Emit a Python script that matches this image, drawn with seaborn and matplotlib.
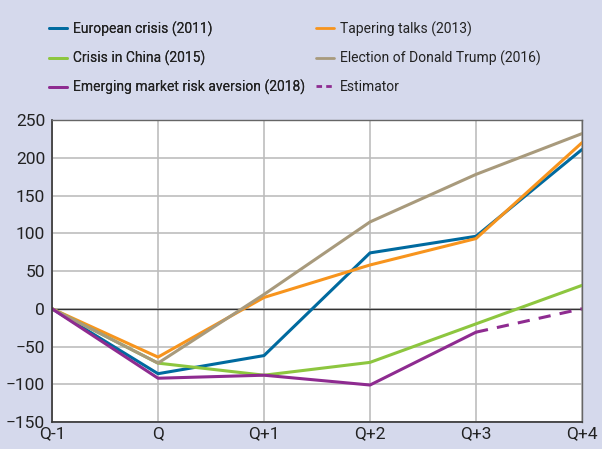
import pandas as pd
import numpy as np
import matplotlib.pyplot as plt
import seaborn as sns
from matplotlib.lines import Line2D

quarters = ["Q-1", "Q", "Q+1", "Q+2", "Q+3", "Q+4"]
european = [0, -86, -62, 74, 96, 211]
tapering = [0, -64, 15, 58, 93, 220]
china = [0, -72, -88, -71, -20, 31]
trump = [0, -72, 19, 115, 178, 232]
emerging = [0, -92, -88, -101, -31]
estimator_q = ["Q+3", "Q+4"]
estimator = [-31, 0]

names = ["European crisis (2011)", "Tapering talks (2013)", "Crisis in China (2015)",
         "Election of Donald Trump (2016)", "Emerging market risk aversion (2018)"]
colors = ["#006a9f", "#f7941d", "#8dc63f", "#a89a7c", "#8e2b90"]

rows = []
for name, vals in zip(names, [european, tapering, china, trump, emerging]):
    for q, v in zip(quarters, vals):
        rows.append({"quarter": q, "value": v, "event": name})
data = pd.DataFrame(rows)
data["x"] = data["quarter"].map({q: i for i, q in enumerate(quarters)})

sns.set_style("white")
plt.rcParams['font.family'] = ['Roboto', 'DejaVu Sans']
bg = "#d5d9ec"
txt = "#222222"

fig = plt.figure(figsize=(6.02, 4.49), dpi=100, facecolor=bg)
ax = fig.add_axes([0.0864, 0.0601, 0.8804, 0.6726])
ax.set_facecolor("white")

sns.lineplot(data=data, x="x", y="value", hue="event", palette=dict(zip(names, colors)),
             linewidth=2.2, ax=ax, legend=False)
est_x = [quarters.index(q) for q in estimator_q]
sns.lineplot(x=est_x, y=estimator, color=colors[4], linewidth=2.2, linestyle=(0, (4, 3)), ax=ax)

ax.set_xlim(0, 5)
ax.set_ylim(-150, 250)
ax.set_xticks(range(len(quarters)))
ax.set_xticklabels(quarters)
ax.set_yticks(range(-150, 251, 50))
ax.grid(True, color="#bdbdbd", linewidth=1.2)
ax.axhline(0, color="#333333", linewidth=1, zorder=1.5)
ax.set_axisbelow(True)
ax.set_xlabel("")
ax.set_ylabel("")
for s in ["left", "bottom"]:
    ax.spines[s].set_color("#333333")
    ax.spines[s].set_linewidth(1.2)
for s in ["top", "right"]:
    ax.spines[s].set_color("#666666")
    ax.spines[s].set_linewidth(1)
ax.tick_params(axis="both", length=0, labelsize=12.5, colors=txt)
ax.tick_params(axis="y", pad=5)
ax.tick_params(axis="x", pad=3)

handles = [Line2D([], [], color=c, linewidth=2) for c in colors]
handles.append(Line2D([], [], color=colors[4], linewidth=2, linestyle=(0, (2, 1.5))))
labels = names + ["Estimator"]

leg_kw = dict(loc="upper left", frameon=False, fontsize=10, handlelength=1.3,
              handletextpad=0.45, labelspacing=1.0, labelcolor=txt, borderaxespad=0)
col1 = [0, 2, 4]
col2 = [1, 3, 5]
leg1 = fig.legend([handles[i] for i in col1], [labels[i] for i in col1],
                  bbox_to_anchor=(0.072, 0.965), **leg_kw)
fig.add_artist(leg1)
fig.legend([handles[i] for i in col2], [labels[i] for i in col2],
           bbox_to_anchor=(0.515, 0.965), **leg_kw)

fig.text(0.0, 1.022, "(basis points)", fontsize=12, va="center", ha="left", color=txt)

fig.savefig("out.png", dpi=100, facecolor=bg)
